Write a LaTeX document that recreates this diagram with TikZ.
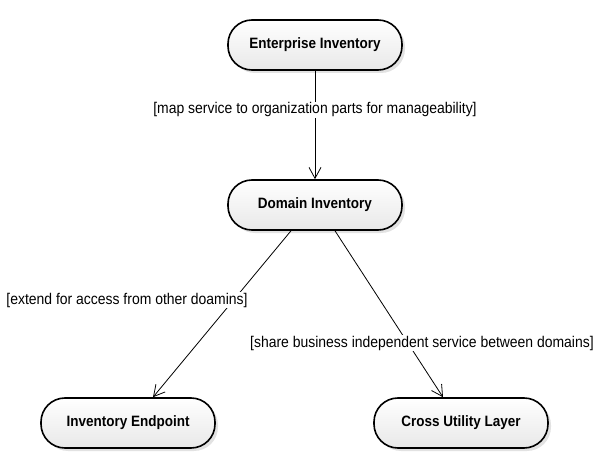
\documentclass[tikz,border=0pt]{standalone}
\usepackage{fontspec}
\setmainfont{Liberation Sans}
\newfontfamily\narrowfont{Liberation Sans}[FakeStretch=0.9]
\usepackage{tikz}
\usetikzlibrary{arrows.meta, positioning, shadows}

\begin{document}
\begin{tikzpicture}[
  x=1pt, y=-1pt,
  pill/.style={rectangle, draw, line width=1.6pt, rounded corners=24pt,
               minimum width=174pt, minimum height=50pt, align=center,
               top color=white, bottom color=gray!18,
               drop shadow={shadow xshift=3pt, shadow yshift=-3pt, fill=gray!45},
               font=\narrowfont\bfseries\fontsize{15}{17}\selectfont},
  arr/.style={-{Straight Barb[length=11pt, width=12pt]}, line width=0.8pt},
  guard/.style={fill=white, inner sep=1pt, font=\narrowfont\fontsize{15.5}{17}\selectfont}
]
  \useasboundingbox (0,0) rectangle (598,452);

  % Enterprise level
  \node[pill] (ent) at (315,45) {Enterprise Inventory};

  % Domain level
  \node[pill] (dom) at (315,205) {Domain Inventory};

  % Leaves
  \node[pill] (end) at (128,423) {Inventory Endpoint};
  \node[pill] (cul) at (461,423) {Cross Utility Layer};

  % Arrows
  \draw[arr] (ent) -- (dom)
    node[guard, pos=0.36] (g1) {[map service to organization parts for manageability]};
  \draw[arr] ([xshift=-24pt]dom.south) -- ([xshift=25pt]end.north);
  \draw[arr] ([xshift=20pt]dom.south) -- ([xshift=-18pt]cul.north);

  % Guards
  \node[guard] (g2) at (127,300) {[extend for access from other doamins]};
  \node[guard] (g3) at (422,343) {[share business independent service between domains]};
\end{tikzpicture}
\end{document}
